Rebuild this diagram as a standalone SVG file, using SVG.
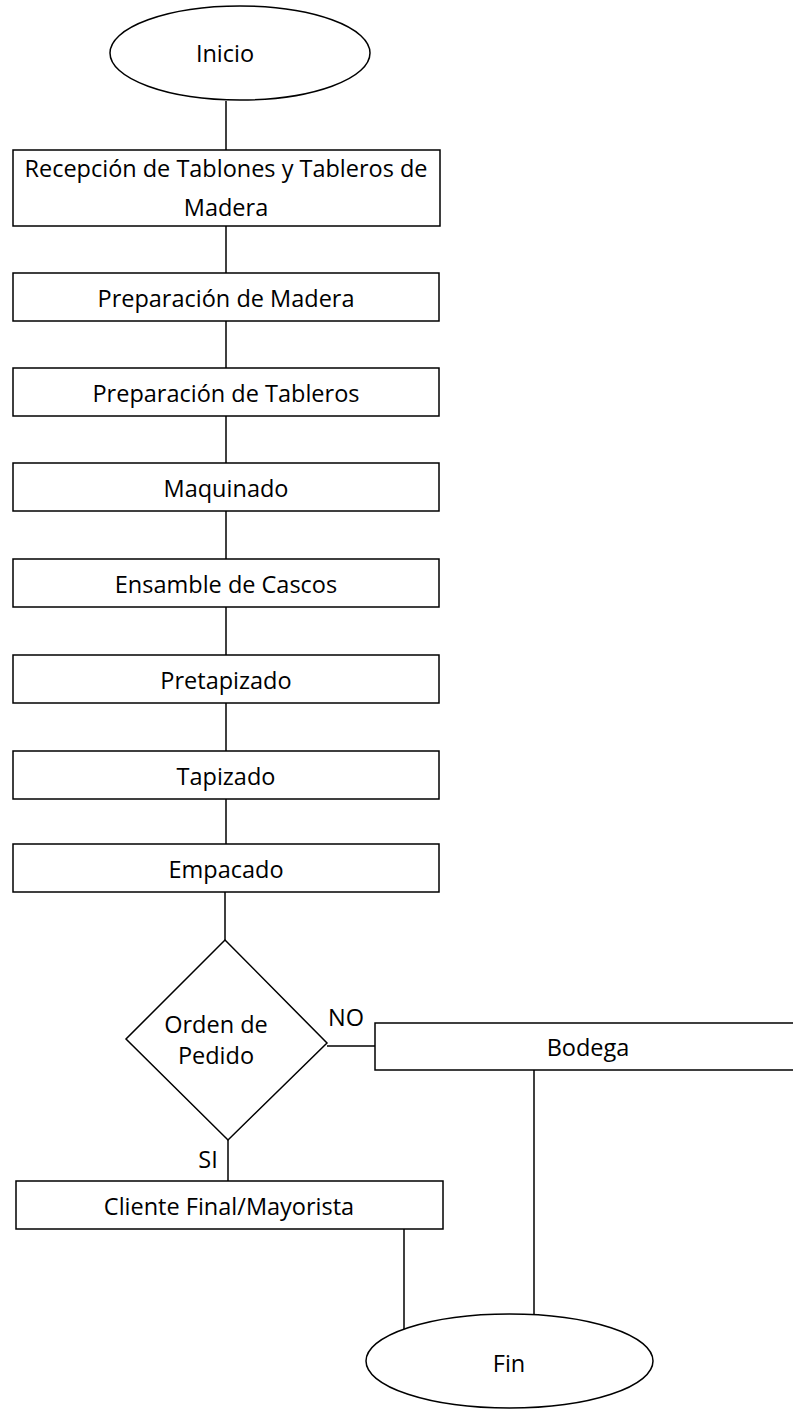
<svg xmlns="http://www.w3.org/2000/svg" width="793" height="1410" viewBox="0 0 793 1410">
<style>
.s{fill:#fff;stroke:#000;stroke-width:1.5}
.c{fill:none;stroke:#000;stroke-width:1.5}
text{font-family:"Open Sans","Noto Sans",sans-serif;font-size:23.5px;fill:#000;text-anchor:middle}
</style>
<rect width="793" height="1410" fill="#fff"/>
<g id="connectors">
<line class="c" x1="226" y1="101" x2="226" y2="150"/>
<line class="c" x1="226" y1="226" x2="226" y2="273"/>
<line class="c" x1="226" y1="321" x2="226" y2="368"/>
<line class="c" x1="226" y1="416" x2="226" y2="463"/>
<line class="c" x1="226" y1="511" x2="226" y2="559"/>
<line class="c" x1="226" y1="607" x2="226" y2="655"/>
<line class="c" x1="226" y1="703" x2="226" y2="751"/>
<line class="c" x1="226" y1="799" x2="226" y2="844"/>
<line class="c" x1="225" y1="892" x2="225" y2="940"/>
<line class="c" x1="327" y1="1046" x2="375" y2="1046"/>
<line class="c" x1="228" y1="1140" x2="228" y2="1181"/>
<line class="c" x1="534" y1="1070" x2="534" y2="1316"/>
<line class="c" x1="404" y1="1229" x2="404" y2="1330"/>
<text x="346" y="1026">NO</text>
<text x="208" y="1168">SI</text>
</g>
<g id="inicio"><ellipse class="s" cx="240" cy="53" rx="130" ry="47"/><text x="225" y="62">Inicio</text></g>
<g id="recepcion"><rect class="s" x="13" y="150" width="427" height="76"/><text x="226" y="177" textLength="403" lengthAdjust="spacingAndGlyphs">Recepción de Tablones y Tableros de</text><text x="226" y="216">Madera</text></g>
<g id="prep-madera"><rect class="s" x="13" y="273" width="426" height="48"/><text x="226" y="307">Preparación de Madera</text></g>
<g id="prep-tableros"><rect class="s" x="13" y="368" width="426" height="48"/><text x="226" y="402">Preparación de Tableros</text></g>
<g id="maquinado"><rect class="s" x="13" y="463" width="426" height="48"/><text x="226" y="497">Maquinado</text></g>
<g id="ensamble"><rect class="s" x="13" y="559" width="426" height="48"/><text x="226" y="593">Ensamble de Cascos</text></g>
<g id="pretapizado"><rect class="s" x="13" y="655" width="426" height="48"/><text x="226" y="689">Pretapizado</text></g>
<g id="tapizado"><rect class="s" x="13" y="751" width="426" height="48"/><text x="226" y="785">Tapizado</text></g>
<g id="empacado"><rect class="s" x="13" y="844" width="426" height="48"/><text x="226" y="878">Empacado</text></g>
<g id="orden"><polygon class="s" points="225,940 327,1043 228,1140 126,1039"/><text x="216" y="1033">Orden de</text><text x="216" y="1064">Pedido</text></g>
<g id="bodega"><rect class="s" x="375" y="1023" width="440" height="47"/><text x="588" y="1056">Bodega</text></g>
<g id="cliente"><rect class="s" x="16" y="1181" width="427" height="48"/><text x="229" y="1215">Cliente Final/Mayorista</text></g>
<g id="fin"><ellipse class="s" cx="509.5" cy="1361" rx="143.5" ry="47"/><text x="509" y="1372">Fin</text></g>
</svg>
